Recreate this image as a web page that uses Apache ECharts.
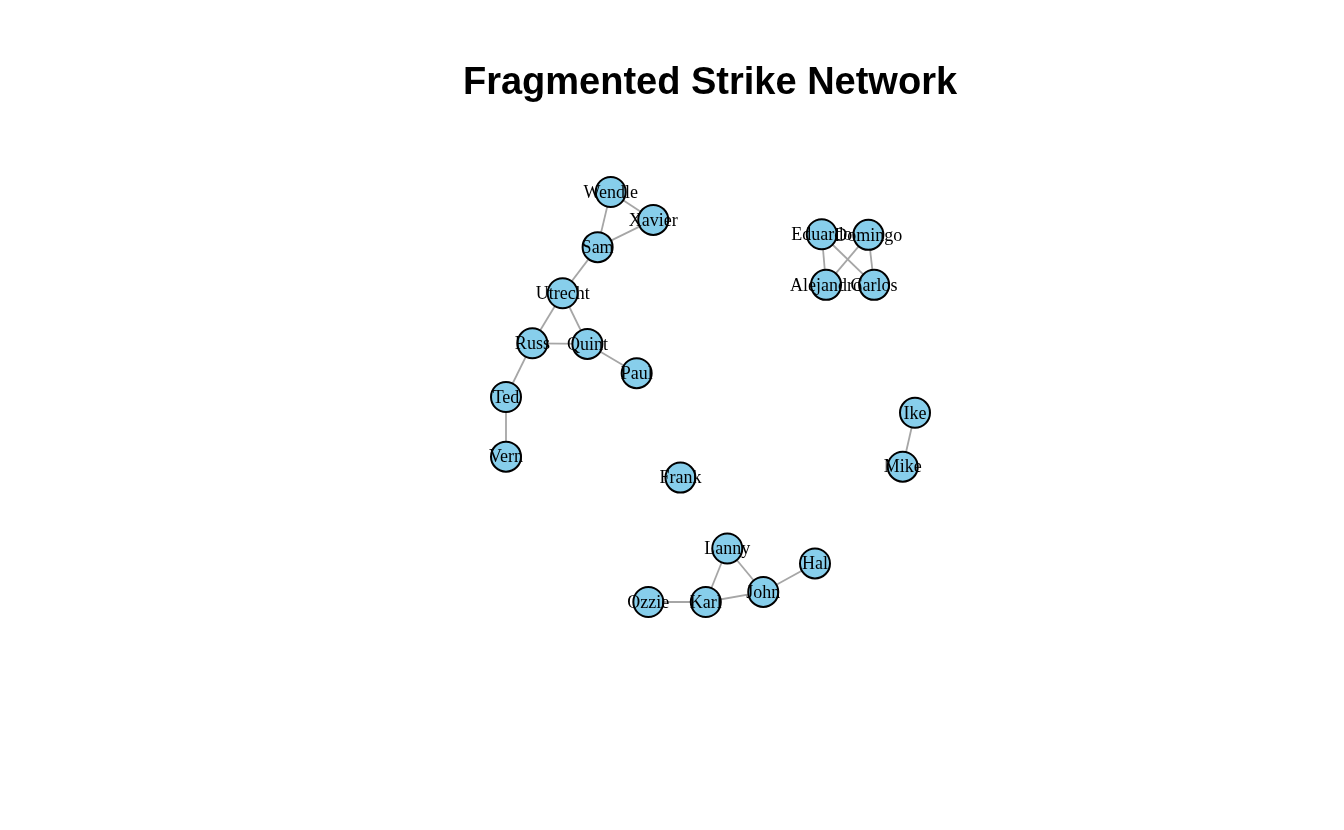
<!DOCTYPE html>
<html>
<head>
<meta charset="utf-8">
<script src="https://cdn.jsdelivr.net/npm/echarts@6/dist/echarts.min.js"></script>
<style>
    html, body { margin: 0; padding: 0; background: #fff; }
    #main { width: 1344px; height: 830px; }
</style>
</head>
<body>
<div id="main"></div>
<script>
// node names and layout coordinates (rescaled to -1..1 like igraph)
var names = ['Wendle', 'Xavier', 'Sam', 'Utrecht', 'Russ', 'Quint', 'Paul', 'Ted', 'Vern',
    'Frank', 'Eduardo', 'Domingo', 'Alejandro', 'Carlos', 'Ike', 'Mike',
    'Lanny', 'Hal', 'John', 'Karl', 'Ozzie'];
var xs = [-0.488, -0.280, -0.552, -0.723, -0.871, -0.602, -0.361, -1.0, -1.0,
    -0.147, 0.544, 0.772, 0.565, 0.800, 1.0, 0.940,
    0.082, 0.511, 0.258, -0.023, -0.304];
var ys = [1.0, 0.864, 0.731, 0.506, 0.262, 0.259, 0.116, 0.0, -0.291,
    -0.393, 0.794, 0.791, 0.547, 0.547, -0.077, -0.340,
    -0.739, -0.812, -0.951, -1.0, -1.0];
// edges
var edges = [
    ['Wendle', 'Xavier'], ['Wendle', 'Sam'], ['Sam', 'Xavier'], ['Sam', 'Utrecht'],
    ['Utrecht', 'Russ'], ['Utrecht', 'Quint'], ['Russ', 'Quint'], ['Quint', 'Paul'],
    ['Russ', 'Ted'], ['Ted', 'Vern'],
    ['Eduardo', 'Alejandro'], ['Eduardo', 'Carlos'], ['Domingo', 'Alejandro'], ['Domingo', 'Carlos'],
    ['Ike', 'Mike'],
    ['Lanny', 'Karl'], ['Lanny', 'John'], ['Karl', 'John'], ['John', 'Hal'], ['Ozzie', 'Karl']
];

var myChart = echarts.init(document.getElementById('main'));

var nodes = [];
for (var i = 0; i < names.length; i++) {
    nodes.push({ name: names[i], value: [xs[i], ys[i]] });
}
var links = [];
for (var j = 0; j < edges.length; j++) {
    links.push({ source: edges[j][0], target: edges[j][1] });
}

var option = {
    backgroundColor: '#ffffff',
    animation: false,
    title: {
        text: 'Fragmented Strike Network',
        left: 705,
        top: 60,
        textAlign: 'center',
        textStyle: {
            fontFamily: 'Liberation Sans',
            fontSize: 38,
            fontWeight: 'bold',
            color: '#000'
        }
    },
    grid: { left: 506, top: 192, width: 409, height: 410 },
    xAxis: { type: 'value', min: -1, max: 1, show: false },
    yAxis: { type: 'value', min: -1, max: 1, show: false },
    series: [{
        type: 'graph',
        coordinateSystem: 'cartesian2d',
        symbol: 'circle',
        symbolSize: 30,
        data: nodes,
        links: links,
        itemStyle: {
            color: '#87CEEB',
            borderColor: '#000',
            borderWidth: 2
        },
        lineStyle: {
            color: '#a6a6a6',
            width: 1.8,
            opacity: 1,
            curveness: 0
        },
        label: {
            show: true,
            position: 'inside',
            offset: [0, 1],
            formatter: '{b}',
            color: '#000',
            fontFamily: 'Liberation Serif',
            fontSize: 18
        },
        emphasis: { disabled: true }
    }]
};
myChart.setOption(option);
</script>
</body>
</html>
